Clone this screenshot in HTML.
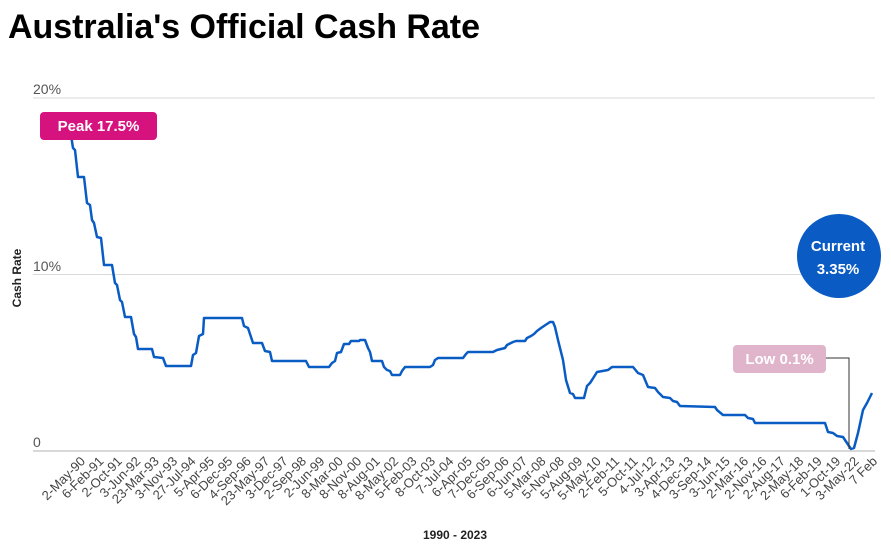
<!DOCTYPE html>
<html><head><meta charset="utf-8"><style>
body{margin:0;background:#fff;}
svg{display:block;font-family:"Liberation Sans",Arial,sans-serif;}
</style></head><body>
<svg width="891" height="549" viewBox="0 0 891 549">
<text x="8" y="38" font-size="34" font-weight="bold" fill="#000" textLength="472">Australia's Official Cash Rate</text>
<g stroke="#d9d9d9" stroke-width="1">
<line x1="33" y1="98" x2="875" y2="98"/>
<line x1="33" y1="274.5" x2="875" y2="274.5"/>
<line x1="33" y1="451" x2="875" y2="451" stroke="#ccc" stroke-width="1.5"/>
</g>
<g font-size="14" fill="#555">
<text x="33" y="94">20%</text>
<text x="33" y="271">10%</text>
<text x="33" y="447">0</text>
</g>
<text transform="translate(21,278) rotate(-90)" text-anchor="middle" font-size="12" font-weight="bold" fill="#222">Cash Rate</text>
<text x="455" y="539" text-anchor="middle" font-size="12" font-weight="bold" fill="#222">1990 - 2023</text>
<g font-size="13" fill="#444" text-anchor="end" id="xl"></g>
<polyline fill="none" stroke="#0a5cc5" stroke-width="2.5" stroke-linejoin="round" points="71,135 73,148 75,150 78,177 84,177 87,203 90,205 92,220 94,223 97,237 101,238 104,265 112,265 115,283 117,285 120,300 122,302 125,317 131,317 134,334 136,337 138,349 152,349 154,357 163,358 166,366 191,366 193,355 196,353 199,336 203,334 204,318 242,318 244,326 248,328 253,343 262,343 265,351 270,352 272,361 306,361 309,367 329,367 332,363 335,361 337,353 341,352 344,344 349,344 351,341 359,341 360,340 365,340 368,348 370,352 372,361 382,361 384,367 387,370 390,371 392,375 400,375 402,371 405,367 430,367 433,365 435,360 438,358 463,358 466,354 468,352 493,352 495,351 497,350 501,349 505,348 507,345 509,344 513,342 516,341 525,341 527,338 531,336 534,334 537,331 541,328 550,322 553,322 555,327 558,340 563,360 566,380 570,393 573,394 575,398 584,398 587,386 590,383 592,380 597,372 608,370 612,367 633,367 638,373 643,375 648,387 655,388 658,392 663,397 670,398 673,401 677,402 680,406 715,407 717,410 723,415 745,415 748,418 753,419 755,423 825,423 828,432 833,433 837,436 843,437 847,443 851,449 854,448 858,433 863,410 867,403 872,393"/>
<rect x="40" y="112" width="117" height="28" rx="4" fill="#d6127f"/>
<text x="98.5" y="131" text-anchor="middle" font-size="15" font-weight="bold" fill="#fff">Peak 17.5%</text>
<polyline points="826,358 849,358 849,449" fill="none" stroke="#333" stroke-width="1"/>
<rect x="733" y="345" width="93" height="28" rx="4" fill="#e0b4cb"/>
<text x="779.5" y="364" text-anchor="middle" font-size="15" font-weight="bold" fill="#fff">Low 0.1%</text>
<circle cx="839" cy="256" r="42" fill="#0a5bc3"/>
<text x="838" y="251" text-anchor="middle" font-size="15" font-weight="bold" fill="#fff">Current</text>
<text x="838" y="274" text-anchor="middle" font-size="15" font-weight="bold" fill="#fff">3.35%</text>
</svg>
<script>
var L=["2-May-90","6-Feb-91","2-Oct-91","3-Jun-92","23-Mar-93","3-Nov-93","27-Jul-94","5-Apr-95","6-Dec-95","4-Sep-96","23-May-97","3-Dec-97","2-Sep-98","2-Jun-99","8-Mar-00","8-Nov-00","8-Aug-01","8-May-02","5-Feb-03","8-Oct-03","7-Jul-04","6-Apr-05","7-Dec-05","6-Sep-06","6-Jun-07","5-Mar-08","5-Nov-08","5-Aug-09","5-May-10","2-Feb-11","5-Oct-11","4-Jul-12","3-Apr-13","4-Dec-13","3-Sep-14","3-Jun-15","2-Mar-16","2-Nov-16","2-Aug-17","2-May-18","6-Feb-19","1-Oct-19","3-May-22","7 Feb"];
var g=document.getElementById("xl"),ns="http://www.w3.org/2000/svg";
for(var i=0;i<L.length;i++){var x=86+i*(878-86)/43,y=462;var t=document.createElementNS(ns,"text");t.setAttribute("transform","translate("+x.toFixed(1)+","+y+") rotate(-45)");t.textContent=L[i];g.appendChild(t);}
</script>
</body></html>
